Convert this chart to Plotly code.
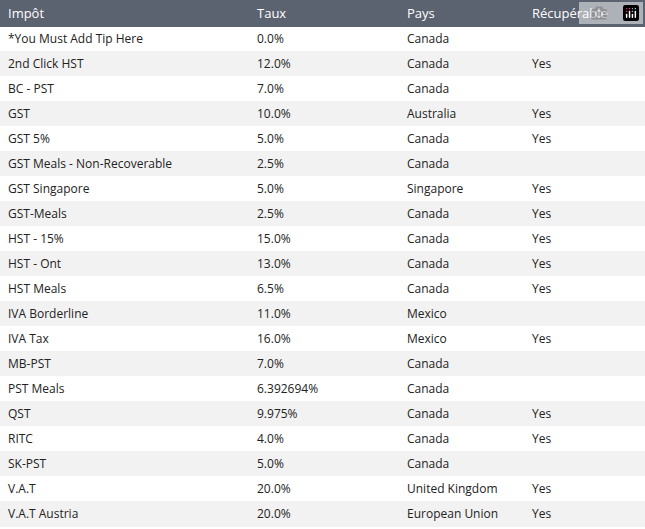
import plotly.graph_objects as go

impots = ["*You Must Add Tip Here", "2nd Click HST", "BC - PST", "GST", "GST 5%",
          "GST Meals - Non-Recoverable", "GST Singapore", "GST-Meals", "HST - 15%",
          "HST - Ont", "HST Meals", "IVA Borderline", "IVA Tax", "MB-PST", "PST Meals",
          "QST", "RITC", "SK-PST", "V.A.T", "V.A.T Austria"]
taux = ["0.0%", "12.0%", "7.0%", "10.0%", "5.0%", "2.5%", "5.0%", "2.5%", "15.0%",
        "13.0%", "6.5%", "11.0%", "16.0%", "7.0%", "6.392694%", "9.975%", "4.0%",
        "5.0%", "20.0%", "20.0%"]
pays = ["Canada", "Canada", "Canada", "Australia", "Canada", "Canada", "Singapore",
        "Canada", "Canada", "Canada", "Canada", "Mexico", "Mexico", "Canada", "Canada",
        "Canada", "Canada", "Canada", "United Kingdom", "European Union"]
recup = ["", "Yes", "", "Yes", "Yes", "", "Yes", "Yes", "Yes", "Yes", "Yes", "",
         "Yes", "", "", "Yes", "Yes", "", "Yes", "Yes"]
headers = ["Impôt", "Taux", "Pays", "Récupérable"]

fills = ["#ffffff" if i % 2 == 0 else "#f2f2f2" for i in range(len(impots))]

fig = go.Figure(go.Table(
    columnwidth=[249, 150, 125, 121],
    header=dict(values=headers, fill_color="#5b6270", line_color="#5b6270",
                font=dict(color="white", size=13, family="Open Sans"),
                align="left", height=26),
    cells=dict(values=[impots, taux, pays, recup], fill_color=[fills],
               line_color=[fills], font=dict(color="#222222", size=12, family="Open Sans"),
               align="left", height=25),
))
fig.update_layout(width=645, height=529, margin=dict(l=0, r=0, t=0, b=0),
                  paper_bgcolor="white")
fig.write_html("out.html", post_script="document.body.style.margin='0';")
